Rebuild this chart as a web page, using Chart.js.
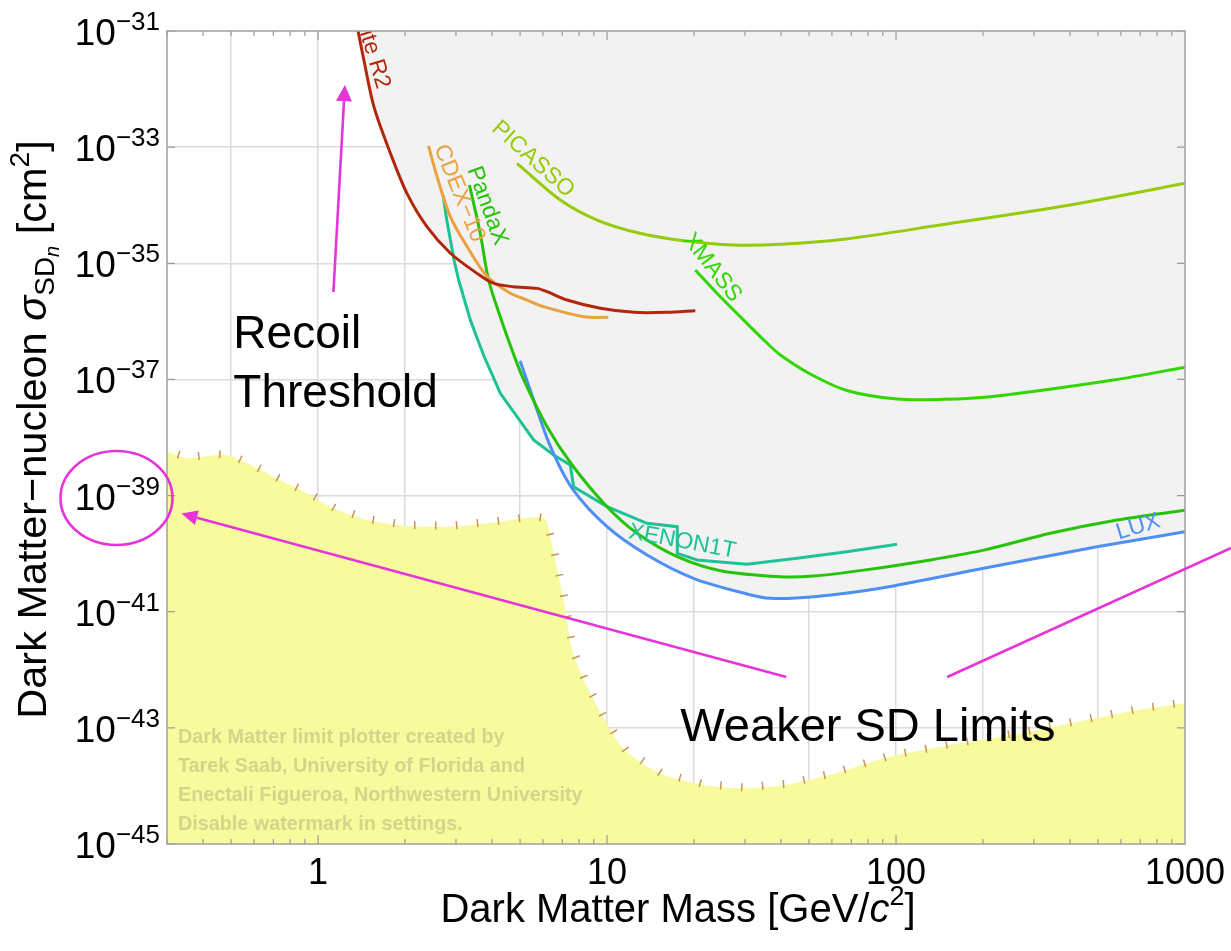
<!DOCTYPE html>
<html>
<head>
<meta charset="utf-8">
<title>Spin-dependent WIMP-neutron limits</title>
<script src="https://cdn.jsdelivr.net/npm/chart.js@4.4.1/dist/chart.umd.min.js"></script>
<style>
  html, body { margin: 0; padding: 0; background: #ffffff; }
  canvas { display: block; }
</style>
</head>
<body>
<canvas id="chart" width="1231" height="951"></canvas>
<script>
const FONT = "'Liberation Sans', Arial, Helvetica, sans-serif";

// ---- Limit curves: WIMP mass [GeV/c^2] and SD-neutron cross-section [cm^2] ----
const cdmsliteMass  = [1.375, 1.44, 1.56, 1.78, 2.03, 2.38, 2.87, 3.55, 4.05, 4.74, 5.72, 6.20, 7.27, 9.48, 12.4, 16.1, 20.2];
const cdmsliteSigma = [1.0e-31, 3.17e-32, 5.0e-33, 7.8e-34, 1.6e-34, 4.27e-35, 1.49e-35, 6.7e-36, 4.5e-36, 3.95e-36, 3.7e-36, 3.24e-36, 2.33e-36, 1.68e-36, 1.43e-36, 1.43e-36, 1.52e-36];

const cdexMass  = [2.41, 2.58, 2.87, 3.28, 3.85, 4.63, 5.29, 6.03, 8.30, 10.1];
const cdexSigma = [1.05e-33, 3.1e-34, 6.3e-35, 1.93e-35, 5.9e-36, 3.04e-36, 2.33e-36, 1.79e-36, 1.2e-36, 1.17e-36];

const pandaxMass  = [3.34, 3.64, 3.89, 4.27, 4.69, 5.15, 6.20, 7.57, 10.0, 12.7, 17.5, 24.7, 39.8, 51.9, 77.3, 131.5, 201, 342, 582, 1000];
const pandaxSigma = [2.23e-34, 3.28e-35, 5.15e-36, 1.2e-36, 3.2e-37, 9.8e-38, 1.53e-38, 3.36e-39, 6.43e-40, 2.24e-40, 8.85e-41, 5.08e-41, 4.0e-41, 4.12e-41, 5.2e-41, 7.8e-41, 1.15e-40, 2.24e-40, 3.8e-40, 5.6e-40];

const xenon1tMass  = [2.71, 2.78, 2.87, 2.96, 3.065, 3.21, 3.365, 3.53, 3.76, 4.01, 4.27, 4.88, 5.57, 6.53, 7.46, 7.66, 10.0, 13.75, 17.5, 17.5, 20.5, 30.5, 45.4, 67.6, 100.8];
const xenon1tSigma = [1.46e-34, 6.0e-35, 2.52e-35, 1.09e-35, 5.15e-36, 2.33e-36, 1.05e-36, 5.56e-37, 2.43e-37, 1.19e-37, 5.76e-38, 2.28e-38, 9.06e-39, 4.99e-39, 3.36e-39, 1.42e-39, 6.43e-40, 3.33e-40, 2.91e-40, 1.01e-40, 7.77e-41, 6.55e-41, 8.3e-41, 1.08e-40, 1.45e-40];

const luxMass  = [5.0, 5.57, 6.37, 7.57, 10.0, 13.75, 19.9, 30.5, 36.7, 51.9, 88.2, 201, 496, 1000];
const luxSigma = [2.1e-37, 4.43e-38, 6.95e-39, 1.33e-39, 2.91e-40, 9.46e-41, 3.76e-41, 2.02e-41, 1.70e-41, 1.81e-41, 2.53e-41, 5.59e-41, 1.31e-40, 2.39e-40];

const picassoMass  = [4.88, 6.89, 9.24, 13.0, 18.4, 27.4, 39.8, 65.9, 142, 401, 1000];
const picassoSigma = [5.27e-34, 1.23e-34, 5.56e-35, 3.28e-35, 2.45e-35, 2.07e-35, 2.12e-35, 2.59e-35, 4.56e-35, 1.01e-34, 2.38e-34];

const xmassMass  = [20.2, 24.0, 31.3, 35.3, 39.8, 50.5, 67.6, 100.8, 146, 212, 566, 1000];
const xmassSigma = [7.66e-36, 3.04e-36, 8.09e-37, 4.5e-37, 2.64e-37, 1.24e-37, 6.45e-38, 4.6e-38, 4.55e-38, 5.04e-38, 9.77e-38, 1.62e-37];

// Neutrino background floor
const floorMass  = [0.300, 0.352, 0.447, 0.497, 0.583, 0.760, 0.916, 1.13, 1.48, 2.03, 2.87, 4.27, 5.57, 6.12, 6.54, 7.08, 7.57, 8.41, 9.66, 11.5, 15.2, 21.5, 29.4, 41.5, 58.8, 95.5, 155, 290, 489, 692, 1000];
const floorSigma = [5.69e-39, 4.38e-39, 4.99e-39, 4.8e-39, 3.36e-39, 1.73e-39, 1.09e-39, 6.04e-40, 3.8e-40, 2.99e-40, 2.91e-40, 3.55e-40, 4.22e-40, 3.9e-40, 1.01e-40, 1.59e-41, 2.19e-42, 5.85e-43, 1.56e-43, 4.15e-44, 1.65e-44, 1.04e-44, 9.1e-45, 1.04e-44, 1.54e-44, 3.18e-44, 5.07e-44, 8.59e-44, 1.46e-43, 2.03e-43, 2.64e-43];

// ---- Axes ----
const xGridValues = [0.5, 1, 2, 5, 10, 20, 50, 100, 200, 500];
const yGridValues = [1e-43, 1e-41, 1e-39, 1e-37, 1e-35, 1e-33];
const xTickLabels = [1, 10, 100, 1000];
const yTickExponents = [-31, -33, -35, -37, -39, -41, -43, -45];

// ---- Curve labels: text, anchor (mass, sigma), rotation in degrees ----
const curveLabels = [
  { text: 'CDMSlite R2', m: 1.683, s: 1.04e-32, angle: 73, align: 'right', color: '#b3260c' },
  { text: 'CDEX\u221210', m: 3.08, s: 1.6e-34, angle: 68, align: 'center', color: '#eba13f' },
  { text: 'PandaX', m: 3.845, s: 9.77e-35, angle: 70, align: 'center', color: '#27c30c' },
  { text: 'PICASSO', m: 5.54, s: 6.19e-34, angle: 42, align: 'center', color: '#96cb0a' },
  { text: 'XMASS', m: 23.1, s: 8.45e-36, angle: 52, align: 'center', color: '#33d600' },
  { text: 'XENON1T', m: 18.2, s: 1.61e-40, angle: 10.5, align: 'center', color: '#1dc395' },
  { text: 'LUX', m: 689, s: 2.88e-40, angle: -17, align: 'center', color: '#4d8ff2' }
];

// ---- Annotations (mass, sigma) ----
const recoilArrow = { from: [1.13, 3.2e-36], to: [1.238, 1.17e-32] };
const sdArrow = { from: [41.7, 7.5e-43], to: [0.3365, 4.9e-40] };
const sdLine = { from: [150.4, 7.5e-43], to: [1445, 1.25e-40] };
const tickCircle = { at: [0.2006, 9.08e-40] };
const recoilText = { lines: ['Recoil', 'Threshold'], at: [0.509, 3.48e-37], at2: [0.509, 3.35e-38] };
const weakerText = { text: 'Weaker SD Limits', at: [17.93, 5.93e-44] };
const watermarkLines = [
  'Dark Matter limit plotter created by',
  'Tarek Saab, University of Florida and',
  'Enectali Figueroa, Northwestern University',
  'Disable watermark in settings.'
];

const MAGENTA = '#e535da';
const EXCLUDED = '#f2f2f2';

function points(m, s) { return m.map((v, i) => ({ x: v, y: s[i] })); }
function limitSet(label, m, s, color, tension) {
  return {
    label, data: points(m, s), borderColor: color, borderWidth: 3,
    pointRadius: 0, tension: tension, fill: 'end', backgroundColor: EXCLUDED
  };
}

function fontOf(p) {
  return `${p.italic ? 'italic ' : ''}${p.bold ? 'bold ' : ''}${p.size}px ${FONT}`;
}
function drawRich(ctx, parts, x, y, align) {
  let w = 0;
  for (const p of parts) { ctx.font = fontOf(p); w += ctx.measureText(p.t).width; }
  let cx = align === 'center' ? x - w / 2 : align === 'right' ? x - w : x;
  ctx.textAlign = 'left';
  ctx.textBaseline = 'alphabetic';
  for (const p of parts) {
    ctx.font = fontOf(p);
    ctx.fillText(p.t, cx, y + (p.dy || 0));
    cx += ctx.measureText(p.t).width;
  }
}
function arrow(ctx, x0, y0, x1, y1, len, half) {
  const a = Math.atan2(y1 - y0, x1 - x0);
  const bx = x1 - len * Math.cos(a), by = y1 - len * Math.sin(a);
  ctx.beginPath(); ctx.moveTo(x0, y0); ctx.lineTo(bx, by); ctx.stroke();
  ctx.beginPath();
  ctx.moveTo(x1, y1);
  ctx.lineTo(bx + half * Math.sin(a), by - half * Math.cos(a));
  ctx.lineTo(bx - half * Math.sin(a), by + half * Math.cos(a));
  ctx.closePath(); ctx.fill();
}

const decorations = {
  id: 'decorations',
  afterDatasetsDraw(chart) {
    const ctx = chart.ctx, a = chart.chartArea;
    const xs = chart.scales.x, ys = chart.scales.y;
    ctx.save();
    ctx.beginPath(); ctx.rect(a.left, a.top, a.right - a.left, a.bottom - a.top); ctx.clip();

    // hatch marks along the neutrino floor edge
    const pts = floorMass.map((m, i) => [xs.getPixelForValue(m), ys.getPixelForValue(floorSigma[i])]);
    ctx.strokeStyle = '#c99353'; ctx.lineWidth = 1.5;
    const step = 21;
    let next = 12, run = 0;
    for (let i = 0; i < pts.length - 1; i++) {
      const [x0, y0] = pts[i], [x1, y1] = pts[i + 1];
      const seg = Math.hypot(x1 - x0, y1 - y0);
      if (seg === 0) continue;
      const tx = (x1 - x0) / seg, ty = (y1 - y0) / seg;
      const nx = ty, ny = -tx;
      while (next <= run + seg) {
        const d = next - run;
        const px = x0 + tx * d, py = y0 + ty * d;
        ctx.beginPath();
        ctx.moveTo(px - 3 * nx, py - 3 * ny);
        ctx.lineTo(px + 5 * nx, py + 5 * ny);
        ctx.stroke();
        next += step;
      }
      run += seg;
    }

    // curve labels
    for (const l of curveLabels) {
      const px = xs.getPixelForValue(l.m), py = ys.getPixelForValue(l.s);
      ctx.save();
      ctx.translate(px, py);
      ctx.rotate(l.angle * Math.PI / 180);
      ctx.fillStyle = l.color;
      ctx.font = `23px ${FONT}`;
      ctx.textAlign = l.align;
      ctx.textBaseline = 'middle';
      ctx.fillText(l.text, 0, 0);
      ctx.restore();
    }

    // watermark
    ctx.fillStyle = '#d3d58a';
    ctx.font = `bold 19.8px ${FONT}`;
    ctx.textAlign = 'left';
    ctx.textBaseline = 'alphabetic';
    watermarkLines.forEach((t, i) => ctx.fillText(t, a.left + 11, a.bottom - 101 + i * 29));
    ctx.restore();
  },
  afterDraw(chart) {
    const ctx = chart.ctx, a = chart.chartArea;
    const xs = chart.scales.x, ys = chart.scales.y;
    const X = v => xs.getPixelForValue(v), Y = v => ys.getPixelForValue(v);
    ctx.save();

    // frame ticks
    ctx.strokeStyle = '#9a9a9a'; ctx.lineWidth = 1.2;
    for (let e = -1; e <= 2; e++) {
      for (let k = 1; k <= 9; k++) {
        const v = k * Math.pow(10, e);
        if (v < xs.min || v > xs.max) continue;
        const px = X(v), len = k === 1 ? 9 : 5;
        ctx.beginPath();
        ctx.moveTo(px, a.bottom); ctx.lineTo(px, a.bottom - len);
        ctx.moveTo(px, a.top); ctx.lineTo(px, a.top + len);
        ctx.stroke();
      }
    }
    for (const e of yTickExponents) {
      const py = Y(Math.pow(10, e));
      ctx.beginPath();
      ctx.moveTo(a.left, py); ctx.lineTo(a.left + 8, py);
      ctx.moveTo(a.right, py); ctx.lineTo(a.right - 8, py);
      ctx.stroke();
    }
    // frame
    ctx.strokeStyle = '#a0a0a0'; ctx.lineWidth = 1.5;
    ctx.strokeRect(a.left, a.top, a.right - a.left, a.bottom - a.top);

    // tick labels
    ctx.fillStyle = '#000000';
    for (const v of xTickLabels) {
      drawRich(ctx, [{ t: String(v), size: 36 }], X(v), a.bottom + 40, 'center');
    }
    for (const e of yTickExponents) {
      const py = Y(Math.pow(10, e));
      drawRich(ctx, [{ t: '10', size: 37 }, { t: '\u2212' + Math.abs(e), size: 26, dy: -15 }], a.left - 7, py + 14, 'right');
    }

    // axis titles
    drawRich(ctx, [
      { t: 'Dark Matter Mass [GeV/', size: 40 },
      { t: 'c', size: 40, italic: true },
      { t: '2', size: 27, dy: -17 },
      { t: ']', size: 40 }
    ], (a.left + a.right) / 2 + 2, a.bottom + 78, 'center');

    ctx.save();
    ctx.translate(46, (a.top + a.bottom) / 2 - 8);
    ctx.rotate(-Math.PI / 2);
    drawRich(ctx, [
      { t: 'Dark Matter\u2212nucleon ', size: 41.5 },
      { t: '\u03c3', size: 41.5, italic: true },
      { t: 'SD', size: 28, dy: 8 },
      { t: 'n', size: 20, italic: true, dy: 13 },
      { t: ' [cm', size: 41.5 },
      { t: '2', size: 28, dy: -17 },
      { t: ']', size: 41.5 }
    ], 0, 0, 'center');
    ctx.restore();

    // annotations
    ctx.strokeStyle = MAGENTA; ctx.fillStyle = MAGENTA; ctx.lineWidth = 2.6;
    arrow(ctx, X(recoilArrow.from[0]), Y(recoilArrow.from[1]), X(recoilArrow.to[0]), Y(recoilArrow.to[1]), 16, 8);
    arrow(ctx, X(sdArrow.from[0]), Y(sdArrow.from[1]), X(sdArrow.to[0]), Y(sdArrow.to[1]), 16, 7.5);
    ctx.beginPath();
    ctx.moveTo(X(sdLine.from[0]), Y(sdLine.from[1]));
    ctx.lineTo(X(sdLine.to[0]), Y(sdLine.to[1]));
    ctx.stroke();
    ctx.beginPath();
    ctx.ellipse(X(tickCircle.at[0]), Y(tickCircle.at[1]), 56, 47, 0, 0, Math.PI * 2);
    ctx.stroke();

    ctx.fillStyle = '#000000';
    drawRich(ctx, [{ t: recoilText.lines[0], size: 46 }], X(recoilText.at[0]), Y(recoilText.at[1]), 'left');
    drawRich(ctx, [{ t: recoilText.lines[1], size: 46 }], X(recoilText.at2[0]), Y(recoilText.at2[1]), 'left');
    drawRich(ctx, [{ t: weakerText.text, size: 47 }], X(weakerText.at[0]), Y(weakerText.at[1]), 'left');
    ctx.restore();
  }
};

new Chart(document.getElementById('chart'), {
  type: 'line',
  data: {
    datasets: [
      limitSet('CDMSlite R2', cdmsliteMass, cdmsliteSigma, '#b3260c', 0.3),
      limitSet('CDEX-10', cdexMass, cdexSigma, '#eba13f', 0.3),
      limitSet('PandaX', pandaxMass, pandaxSigma, '#27c30c', 0.3),
      limitSet('LUX', luxMass, luxSigma, '#4d8ff2', 0.3),
      limitSet('XENON1T', xenon1tMass, xenon1tSigma, '#1dc395', 0),
      limitSet('PICASSO', picassoMass, picassoSigma, '#96cb0a', 0.3),
      limitSet('XMASS', xmassMass, xmassSigma, '#33d600', 0.3),
      {
        label: 'Neutrino floor', data: points(floorMass, floorSigma),
        borderColor: 'rgba(0,0,0,0)', borderWidth: 0, pointRadius: 0, tension: 0.25,
        fill: 'start', backgroundColor: '#f8fb9d'
      }
    ]
  },
  options: {
    responsive: false,
    animation: false,
    devicePixelRatio: 1,
    layout: { padding: { left: 167, right: 46, top: 31, bottom: 107 } },
    plugins: {
      legend: { display: false },
      tooltip: { enabled: false },
      filler: { drawTime: 'beforeDatasetsDraw' }
    },
    scales: {
      x: {
        type: 'logarithmic', min: 0.3, max: 1000, bounds: 'data',
        afterBuildTicks: s => { s.ticks = xGridValues.map(v => ({ value: v })); },
        afterFit: s => { s.height = 0; },
        ticks: { display: false },
        grid: { color: '#dcdcdc', lineWidth: 1.5, drawTicks: false },
        border: { display: false }
      },
      y: {
        type: 'logarithmic', min: 1e-45, max: 1e-31, bounds: 'data',
        afterBuildTicks: s => { s.ticks = yGridValues.map(v => ({ value: v })); },
        afterFit: s => { s.width = 0; },
        ticks: { display: false },
        grid: { color: '#dcdcdc', lineWidth: 1.5, drawTicks: false },
        border: { display: false }
      }
    }
  },
  plugins: [decorations]
});
</script>
</body>
</html>
